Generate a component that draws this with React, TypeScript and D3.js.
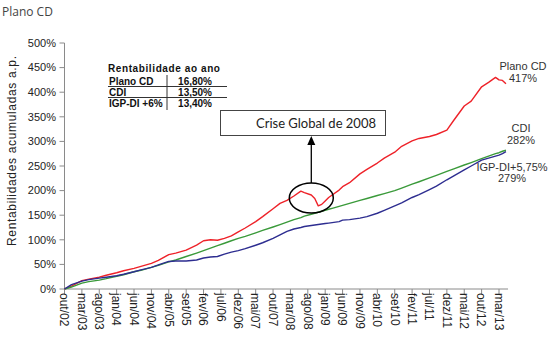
import React from "react";
import * as d3 from "d3";

const months = [0,2,5,7,10,12,15,17,20,22,25,27,30,32,35,38,40,42,44,46,48,50,52,55,57,60,62,64,66,68,69,71,72,73,74,75,76,77,79,80,82,85,87,90,92,95,97,100,102,105,107,110,112,115,117,120,122,124,125,126,127];

const planoCD = [0,6,17,20,24,28,33,37,42,46,52,58,70,73,79,89,98,100,99,103,108,116,124,137,147,163,174,180,189,199,196,191,184,169,172,179,186,191,201,208,216,234,243,256,266,278,290,301,306,310,314,323,343,372,382,411,420,430,425,424,417];

const cdi = [0,4,12,15,18,21,26,29,35,38,44,48,55,59,66,73,78,83,88,93,98,103,107,114,119,126,131,136,141,145,148,152,154,156,158,160,162,164,168,170,174,180,184,190,194,200,205,213,218,226,231,239,244,252,257,265,270,275,277,280,282];

const igpdi = [0,9,16,19,22,24,27,30,35,39,44,49,56,57,57,59,63,65,66,71,75,78,82,89,94,103,110,117,122,125,127,129,130,131,132,133,134,135,137,140,141,144,147,154,160,169,175,186,192,202,209,222,230,242,250,262,266,270,272,275,279];

const tickLabels = ["out/02","mar/03","ago/03","jan/04","jun/04","nov/04","abr/05","set/05","fev/06","jul/06","dez/06","mai/07","out/07","mar/08","ago/08","jan/09","jun/09","nov/09","abr/10","set/10","fev/11","jul/11","dez/11","mai/12","out/12","mar/13"];

const yTicks = [0,50,100,150,200,250,300,350,400,450,500];

const tableRows = [
  ["Plano CD", "16,80%"],
  ["CDI", "13,50%"],
  ["IGP-DI +6%", "13,40%"],
];

const seriesList = [
  { name: "Plano CD", values: planoCD, color: "#ee2229" },
  { name: "CDI", values: cdi, color: "#3a9a3a" },
  { name: "IGP-DI", values: igpdi, color: "#2d2d90" },
];

export default function App() {
  const x = d3.scaleLinear().domain([0, 125]).range([64.5, 499]);
  const y = d3.scaleLinear().domain([0, 500]).range([289, 43]);
  const axisColor = "#8a8a8a";
  const font = "'Liberation Sans', Arial, sans-serif";

  const lineFor = (vals: number[]) =>
    d3
      .line<number>()
      .x((_, i) => x(months[i]))
      .y((v) => y(v))(vals) || "";

  const xEnd = x(127.6);

  const ellX = x(71);
  const ellY = y(185);

  return (
    <svg
      width={550}
      height={340}
      style={{ position: "absolute", left: 0, top: 0, background: "#fff" }}
      fontFamily={font}
    >
      <rect x={0} y={0} width={550} height={340} fill="#fff" />
      <text x={2} y={16} fontFamily="'Open Sans', 'Noto Sans', sans-serif" fontSize={12} fill="#444">
        Plano CD
      </text>

      {/* y axis */}
      <line x1={x(0)} x2={x(0)} y1={y(500)} y2={y(0)} stroke={axisColor} />
      {yTicks.map((t) => (
        <g key={t}>
          <line x1={x(0) - 5} x2={x(0)} y1={y(t)} y2={y(t)} stroke={axisColor} />
          <text x={56} y={y(t)} dy="0.35em" textAnchor="end" fontSize={11} fill="#222">
            {t + "%"}
          </text>
        </g>
      ))}
      <text
        transform={`translate(16,${151}) rotate(-90)`}
        textAnchor="middle"
        fontSize={12}
        textLength={190}
        lengthAdjust="spacing"
        fill="#222"
      >
        Rentabilidades acumuladas a.p.
      </text>

      {/* x axis */}
      <line x1={x(0)} x2={xEnd} y1={y(0)} y2={y(0)} stroke={axisColor} />
      {tickLabels.map((lab, i) => {
        const xx = x(i * 5);
        return (
          <g key={lab}>
            <line x1={xx} x2={xx} y1={y(0)} y2={y(0) + 5} stroke={axisColor} />
            <text
              transform={`translate(${xx},${y(0) + 4}) rotate(90)`}
              dy="0.35em"
              fontSize={12}
              fill="#222"
            >
              {lab}
            </text>
          </g>
        );
      })}

      {/* series */}
      {seriesList.map((s) => (
        <path key={s.name} d={lineFor(s.values)} fill="none" stroke={s.color} strokeWidth={1.4} strokeLinejoin="round" />
      ))}

      {/* end labels */}
      <text x={523} y={70} textAnchor="middle" fontSize={11} fill="#333">Plano CD</text>
      <text x={523} y={82} textAnchor="middle" fontSize={11} fill="#333">417%</text>
      <text x={521} y={132} textAnchor="middle" fontSize={11} fill="#333">CDI</text>
      <text x={521} y={144} textAnchor="middle" fontSize={11} fill="#333">282%</text>
      <text x={512} y={171} textAnchor="middle" fontSize={11} fill="#333">IGP-DI+5,75%</text>
      <text x={512} y={182} textAnchor="middle" fontSize={11} fill="#333">279%</text>

      {/* table */}
      <text x={108} y={72} fontSize={10} fontWeight="bold" letterSpacing={0.6} fill="#111">
        Rentabilidade ao ano
      </text>
      {tableRows.map((r, i) => (
        <g key={r[0]}>
          <text x={109} y={85 + i * 11} fontSize={10} fontWeight="bold" fill="#111">{r[0]}</text>
          <text x={212} y={85 + i * 11} fontSize={10} fontWeight="bold" textAnchor="end" fill="#111">{r[1]}</text>
        </g>
      ))}
      <line x1={108} x2={227} y1={86.5} y2={86.5} stroke="#333" />
      <line x1={108} x2={227} y1={97.5} y2={97.5} stroke="#333" />
      <line x1={167} x2={167} y1={75} y2={110} stroke="#333" />

      {/* annotation */}
      <rect x={220.5} y={110.5} width={165} height={25} fill="#fff" stroke="#444" strokeWidth={1} />
      <text x={316} y={128} textAnchor="middle" fontFamily="Lato, 'Open Sans', sans-serif" fontSize={13} fill="#222">
        Crise Global de 2008
      </text>
      <line x1={ellX} x2={ellX} y1={ellY - 15} y2={144} stroke="#000" strokeWidth={1.3} />
      <path d={`M${ellX - 4},${145} L${ellX + 4},${145} L${ellX},${136} Z`} fill="#000" />
      <ellipse cx={ellX} cy={ellY} rx={22} ry={15} fill="none" stroke="#000" strokeWidth={1.5} />
    </svg>
  );
}
